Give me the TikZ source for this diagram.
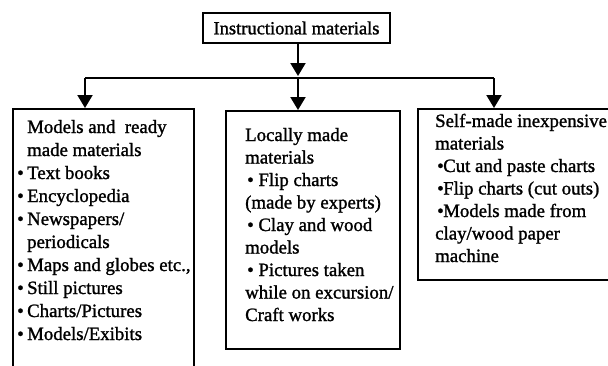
\documentclass[tikz,border=0pt]{standalone}
\usepackage{fontspec}
\setmainfont{Liberation Serif}[FakeBold=1.3]
\usetikzlibrary{arrows.meta}
\newcommand{\itm}[1][12pt]{\makebox[#1][l]{\hspace*{2pt}\textbullet}}
\begin{document}
\begin{tikzpicture}[x=1pt,y=-1pt,
  frame/.style={draw, line width=2.2pt, inner sep=0pt, anchor=north west},
  label/.style={inner sep=0pt, anchor=base west, font=\fontsize{18.8}{22.5}\selectfont},
  conn/.style={line width=2pt},
  tip/.style={conn, -{Triangle[width=15pt,length=13pt]}}]
\useasboundingbox (0,0) rectangle (608,365);
% top box
\node[draw, line width=2.2pt, minimum width=187pt, minimum height=30pt, inner sep=0pt,
  font=\fontsize{18.5}{22.5}\selectfont] (top) at (296.5,28) {Instructional materials};
% three boxes
\node[frame, minimum width=181pt, minimum height=300pt] (lbox) at (12,108) {};
\node[frame, minimum width=174pt, minimum height=238pt] (mbox) at (225,110) {};
\node[frame, minimum width=220pt, minimum height=171pt] (rbox) at (417,108) {};
\node[label, font=\fontsize{18.8}{23}\selectfont] (ltext) at (15,133) {\parbox[t]{220pt}{\raggedright
  \hspace*{12pt}Models and~ ready\\
  \hspace*{12pt}made materials\\
  \itm Text books\\
  \itm Encyclopedia\\
  \itm Newspapers/\\
  \hspace*{12pt}periodicals\\
  \itm Maps and globes etc.,\\
  \itm Still pictures\\
  \itm Charts/Pictures\\
  \itm Models/Exibits}};
\node[label] (mtext) at (245,141) {\parbox[t]{220pt}{\raggedright
  Locally made\\
  materials\\
  \hspace*{2pt}\textbullet\ Flip charts\\
  (made by experts)\\
  \hspace*{2pt}\textbullet\ Clay and wood\\
  models\\
  \hspace*{2pt}\textbullet\ Pictures taken\\
  while on excursion/\\
  Craft works}};
\node[label] (rtext) at (435,127) {\parbox[t]{220pt}{\raggedright
  Self-made inexpensive\\
  materials\\
  \itm[8pt]Cut and paste charts\\
  \itm[8pt]Flip charts (cut outs)\\
  \itm[8pt]Models made from\\
  clay/wood paper\\
  machine}};
% connectors
\coordinate (split) at (298,78);
\coordinate (jl) at (85,78);
\coordinate (jr) at (494,78);
\draw[tip, shorten >=2pt] (top.south -| split) -- (split);
\draw[conn] (jl) -- (jr);
\draw[tip] (jl) -- (jl |- lbox.north);
\draw[tip] (split) -- (split |- mbox.north);
\draw[tip] (jr) -- (jr |- rbox.north);
\end{tikzpicture}
\end{document}
